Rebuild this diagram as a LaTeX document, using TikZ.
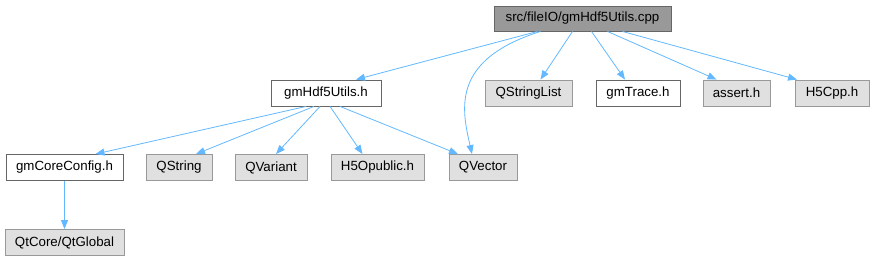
\documentclass[tikz,border=0pt]{standalone}
\usepackage{fontspec}
\setmainfont{Liberation Sans}
\usetikzlibrary{arrows.meta}
\definecolor{edgeblue}{HTML}{63B8FF}
\definecolor{rootfill}{HTML}{999999}
\definecolor{rootdraw}{HTML}{666666}
\definecolor{grayfill}{HTML}{E0E0E0}
\definecolor{graydraw}{HTML}{999999}
\begin{document}
\begin{tikzpicture}[x=1pt,y=-1pt,
  box/.style={draw, line width=0.9pt, inner sep=0pt, minimum height=26pt, font=\fontsize{13.3}{15}\selectfont, anchor=center},
  rootbox/.style={box, fill=rootfill, draw=rootdraw},
  extbox/.style={box, fill=grayfill, draw=graydraw},
  filebox/.style={box, fill=white, draw=rootdraw},
  dep/.style={draw=edgeblue, line width=0.8pt, -{Triangle[length=9pt,width=7pt]}}]
\useasboundingbox (0,0) rectangle (875,261);
\node[rootbox, minimum width=177pt, minimum height=25pt] (root) at (582.5,18.5) {src/fileIO/gmHdf5Utils.cpp};
\node[filebox, minimum width=110pt] (utils) at (326,93) {gmHdf5Utils.h};
\node[extbox, minimum width=87pt] (qsl) at (528.5,93) {QStringList};
\node[filebox, minimum width=84pt] (trace) at (638,93) {gmTrace.h};
\node[extbox, minimum width=67pt] (assert) at (736.5,93) {assert.h};
\node[extbox, minimum width=74pt] (h5cpp) at (832,93) {H5Cpp.h};
\node[filebox, minimum width=117pt] (core) at (64.5,167.5) {gmCoreConfig.h};
\node[extbox, minimum width=66pt] (qstring) at (179,167.5) {QString};
\node[extbox, minimum width=72pt] (qvariant) at (271,167.5) {QVariant};
\node[extbox, minimum width=93pt] (h5o) at (377.5,167.5) {H5Opublic.h};
\node[extbox, minimum width=68pt] (qvector) at (483,167.5) {QVector};
\node[extbox, minimum width=119pt] (qtglobal) at (64.5,242.5) {QtCore/QtGlobal};
% edges from root
\draw[dep] ([xshift=-45pt]root.south) -- ([xshift=30pt]utils.north);
\draw[dep] ([xshift=-42pt]root.south) .. controls (450,60) and (462,110) .. ([xshift=-11pt]qvector.north);
\draw[dep] ([xshift=-10pt]root.south) -- ([xshift=12pt]qsl.north);
\draw[dep] ([xshift=9pt]root.south) -- ([xshift=-13pt]trace.north);
\draw[dep] ([xshift=25pt]root.south) -- ([xshift=-20pt]assert.north);
\draw[dep] ([xshift=40pt]root.south) -- ([xshift=-35pt]h5cpp.north);
% edges from gmHdf5Utils.h
\draw[dep] ([xshift=-20pt]utils.south) -- ([xshift=31pt]core.north);
\draw[dep] ([xshift=-12pt]utils.south) -- ([xshift=17pt]qstring.north);
\draw[dep] ([xshift=-6pt]utils.south) -- ([xshift=5pt]qvariant.north);
\draw[dep] ([xshift=4pt]utils.south) -- ([xshift=-15pt]h5o.north);
\draw[dep] ([xshift=14pt]utils.south) -- ([xshift=-25pt]qvector.north);
% gmCoreConfig.h
\draw[dep] (core.south) -- (qtglobal.north);
\end{tikzpicture}
\end{document}
